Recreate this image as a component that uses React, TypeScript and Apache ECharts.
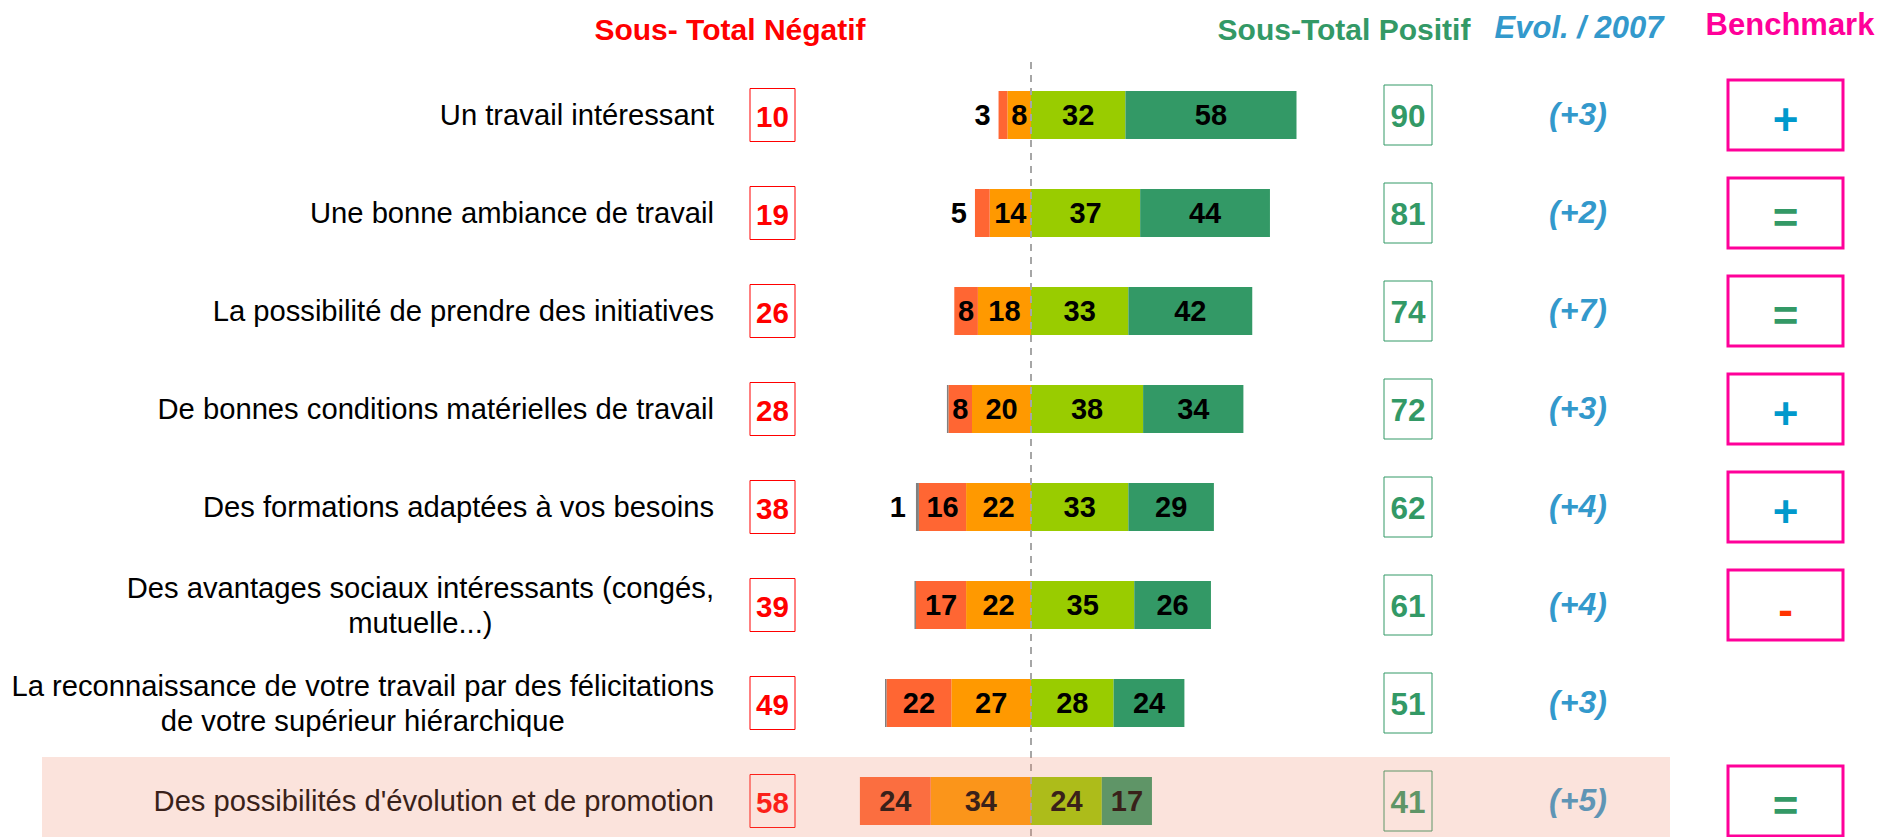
import { useEffect, useRef } from 'react';
import * as echarts from 'echarts';

const categories = [
  'Un travail intéressant',
  'Une bonne ambiance de travail',
  'La possibilité de prendre des initiatives',
  'De bonnes conditions matérielles de travail',
  'Des formations adaptées à vos besoins',
  'Des avantages sociaux intéressants (congés,\nmutuelle...)',
  'La reconnaissance de votre travail par des félicitations\nde votre supérieur hiérarchique',
  "Des possibilités d'évolution et de promotion",
];
const sansReponse = [0, 0, 0, 0.5, 1, 0.5, 0.5, 0];
const pasDuTout = [3, 5, 8, 8, 16, 17, 22, 24];
const plutotPas = [8, 14, 18, 20, 22, 22, 27, 34];
const plutot = [32, 37, 33, 38, 33, 35, 28, 24];
const tres = [58, 44, 42, 34, 29, 26, 24, 17];
const sousTotalNegatif = [10, 19, 26, 28, 38, 39, 49, 58];
const sousTotalPositif = [90, 81, 74, 72, 62, 61, 51, 41];
const evol2007 = ['(+3)', '(+2)', '(+7)', '(+3)', '(+4)', '(+4)', '(+3)', '(+5)'];
const benchmark = ['+', '=', '=', '+', '+', '-', '', '='];
const highlightedIndex = 7;

const FONT = "'Liberation Sans', Arial, sans-serif";
const benchColors: Record<string, string> = { '+': '#0099CC', '=': '#339966', '-': '#FF3300' };

export default function App() {
  const ref = useRef<HTMLDivElement>(null);
  useEffect(() => {
    if (!ref.current) return;
    const chart = echarts.init(ref.current, undefined, { renderer: 'svg' });
    const barLabel = {
      show: true,
      position: 'inside',
      color: '#000',
      fontWeight: 'bold',
      fontSize: 29,
      fontFamily: FONT,
      formatter: (p: any) => String(Math.abs(p.value)),
    };
    const base = {
      type: 'bar',
      stack: 'total',
      barWidth: 48,
      label: barLabel,
      emphasis: { disabled: true },
    };
    chart.setOption({
      animation: false,
      grid: { left: 736, width: 590, top: 115, height: 686, containLabel: false },
      xAxis: { type: 'value', min: -100, max: 100, show: false },
      yAxis: {
        type: 'category',
        data: categories,
        inverse: true,
        boundaryGap: false,
        axisLine: { show: false },
        axisTick: { show: false },
        splitLine: { show: false },
        axisLabel: {
          margin: 22,
          formatter: (v: string) => v.split('\n').map((l) => `{c|${l}}`).join('\n'),
          rich: {
            c: { align: 'center', fontSize: 29.2, fontFamily: FONT, color: '#000', lineHeight: 35 },
          },
        },
      },
      series: [
        {
          ...base,
          name: 'Plutôt pas satisfait',
          data: plutotPas.map((v) => -v),
          itemStyle: { color: '#FF9900' },
        },
        {
          ...base,
          name: 'Pas du tout satisfait',
          data: pasDuTout.map((v) =>
            v <= 5 ? { value: -v, label: { position: 'left', distance: 8 } } : { value: -v }
          ),
          itemStyle: { color: '#FF6633' },
        },
        {
          ...base,
          name: 'Sans réponse',
          data: sansReponse.map((v) => ({
            value: -v,
            label: { show: v >= 1, position: 'left', distance: 10 },
          })),
          itemStyle: { color: '#808080' },
        },
        {
          ...base,
          name: 'Plutôt satisfait',
          data: plutot,
          itemStyle: { color: '#99CC00' },
        },
        {
          ...base,
          name: 'Très satisfait',
          data: tres,
          itemStyle: { color: '#339966' },
        },
      ],
    });

    const yPx = (i: number) => chart.convertToPixel({ yAxisIndex: 0 }, i) as number;
    const x0 = chart.convertToPixel({ xAxisIndex: 0 }, 0) as number;
    const txt = (x: number, y: number, text: string, fill: string, fontSize: number, extra: any = {}) => ({
      type: 'text',
      x,
      y,
      z: 5,
      style: {
        text,
        fill,
        fontSize,
        fontWeight: 'bold',
        fontFamily: FONT,
        align: 'center',
        verticalAlign: 'middle',
        ...extra,
      },
    });
    const elements: any[] = [
      {
        type: 'line',
        z: 50,
        silent: true,
        shape: { x1: x0, y1: 62, x2: x0, y2: 837 },
        style: { stroke: '#A6A6A6', lineWidth: 2, lineDash: [7, 6] },
      },
      txt(730, 29, 'Sous- Total Négatif', '#FF0000', 30),
      txt(1344, 29, 'Sous-Total Positif', '#339966', 30),
      txt(1579, 27, 'Evol. / 2007', '#3399CC', 31, { fontStyle: 'italic' }),
      txt(1790, 24, 'Benchmark', '#FF0099', 31),
    ];
    categories.forEach((_, i) => {
      const y = yPx(i);
      elements.push({
        type: 'rect',
        z: 4,
        shape: { x: 750, y: y - 26.5, width: 45, height: 53 },
        style: { fill: '#fff', stroke: '#FF0000', lineWidth: 1 },
      });
      elements.push(txt(772.5, y + 1, String(sousTotalNegatif[i]), '#FF0000', 29.5));
      elements.push({
        type: 'rect',
        z: 4,
        shape: { x: 1384, y: y - 30, width: 48, height: 60 },
        style: { fill: '#fff', stroke: '#339966', lineWidth: 1 },
      });
      elements.push(txt(1408, y + 1, String(sousTotalPositif[i]), '#339966', 31.5));
      elements.push(txt(1578, y - 1, evol2007[i], '#3399CC', 32, { fontStyle: 'italic' }));
      if (benchmark[i]) {
        elements.push({
          type: 'rect',
          z: 4,
          shape: { x: 1728, y: y - 35, width: 115, height: 70 },
          style: { fill: '#fff', stroke: '#FF0099', lineWidth: 3 },
        });
        elements.push(txt(1785.5, y + 4, benchmark[i], benchColors[benchmark[i]] || '#000', 44));
      }
    });
    const hy = yPx(highlightedIndex);
    elements.push({
      type: 'rect',
      z: 100,
      silent: true,
      shape: { x: 42, y: hy - 44, width: 1628, height: 100 },
      style: { fill: 'rgba(240,140,110,0.24)' },
    });
    chart.setOption({ graphic: { elements } });

    return () => chart.dispose();
  }, []);
  return (
    <div
      ref={ref}
      style={{ position: 'fixed', left: 0, top: 0, width: 1878, height: 837, background: '#fff' }}
    />
  );
}
